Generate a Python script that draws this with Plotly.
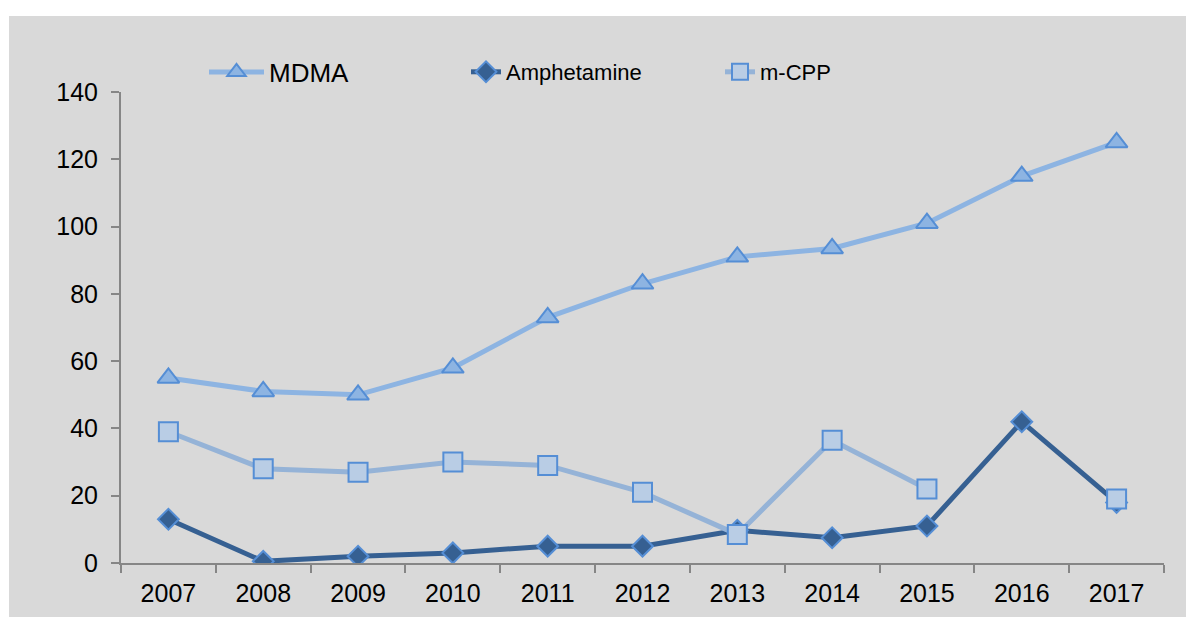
import plotly.graph_objects as go

years = ["2007", "2008", "2009", "2010", "2011", "2012", "2013", "2014", "2015", "2016", "2017"]
mdma = [55, 51, 50, 58, 73, 83, 91, 93.5, 101, 115, 125]
amphetamine = [13, 0.5, 2, 3, 5, 5, 9.7, 7.5, 11, 42, 18]
mcpp = [39, 28, 27, 30, 29, 21, 8.5, 36.5, 22, None, 19]
y_ticks = [0, 20, 40, 60, 80, 100, 120, 140]

BG = "#d9d9d9"
EDGE = "#558ed5"

W, H = 1186, 617
ML, MR, MT, MB = 121, 22, 92, 54
PW, PH = W - ML - MR, H - MT - MB


def px_x(x):
    return (x - ML) / PW


def px_y(y):
    return (MT + PH - y) / PH


fig = go.Figure()
fig.add_trace(go.Scatter(
    x=years, y=mdma, name="MDMA", mode="lines+markers", legend="legend",
    line=dict(color="#8db4e2", width=5),
    marker=dict(symbol="triangle-up", size=19, color="#8db4e2", line=dict(color=EDGE, width=2)),
))
fig.add_trace(go.Scatter(
    x=years, y=amphetamine, name="Amphetamine", mode="lines+markers", legend="legend2",
    line=dict(color="#366092", width=5),
    marker=dict(symbol="diamond", size=16, color="#366092", line=dict(color=EDGE, width=2)),
))
fig.add_trace(go.Scatter(
    x=years, y=mcpp, name="m-CPP", mode="lines+markers", legend="legend3", connectgaps=False,
    line=dict(color="#95b3d7", width=5),
    marker=dict(symbol="square", size=19, color="#b9cde5", line=dict(color=EDGE, width=2)),
))

# white strips at the top and left edges of the page, grey elsewhere
fig.add_shape(type="rect", xref="paper", yref="paper",
              x0=px_x(-20), x1=px_x(W + 20), y0=px_y(16), y1=px_y(-20),
              fillcolor="white", line_width=0, layer="below")
fig.add_shape(type="rect", xref="paper", yref="paper",
              x0=px_x(-20), x1=px_x(9), y0=px_y(H + 20), y1=px_y(-20),
              fillcolor="white", line_width=0, layer="below")

legend_common = dict(orientation="h", xref="container", yref="container", yanchor="middle",
                     y=1 - 72 / H, bgcolor="rgba(0,0,0,0)", borderwidth=0)

fig.update_layout(
    width=W, height=H,
    margin=dict(l=ML, r=MR, t=MT, b=MB, autoexpand=False),
    paper_bgcolor=BG, plot_bgcolor=BG,
    font=dict(family="Liberation Sans, Arial, sans-serif", color="black", size=25),
    showlegend=True,
    legend=dict(x=204 / W, font=dict(size=26), itemwidth=55, **legend_common),
    legend2=dict(x=466 / W, font=dict(size=22), itemwidth=30, **legend_common),
    legend3=dict(x=720 / W, font=dict(size=22), itemwidth=30, **legend_common),
    xaxis=dict(type="category", categoryorder="array", categoryarray=years,
               range=[-0.5, len(years) - 0.5],
               showline=True, linecolor="#868686", linewidth=2, automargin=False,
               ticks="outside", tickson="boundaries", ticklen=8, tickcolor="#868686", tickwidth=2,
               showgrid=False, zeroline=False, tickfont=dict(size=25), ticklabelstandoff=7),
    yaxis=dict(range=[0, 140], tickvals=y_ticks, automargin=False,
               showline=True, linecolor="#868686", linewidth=2,
               ticks="outside", ticklen=8, tickcolor="#868686", tickwidth=2,
               showgrid=False, zeroline=False, tickfont=dict(size=25), ticklabelstandoff=8),
)

fig.write_html("out.html", config={"displayModeBar": False},
               post_script="document.body.style.margin='0';document.body.style.background='%s';" % BG)
